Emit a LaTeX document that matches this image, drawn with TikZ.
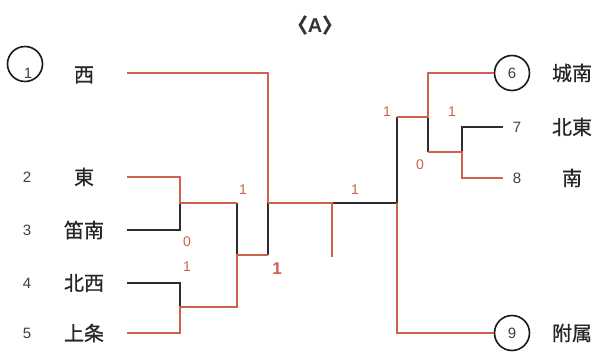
\documentclass[tikz,border=0pt]{standalone}
\usepackage{fontspec}
\setmainfont{Liberation Sans}
\newfontfamily\jpfont{Noto Sans CJK JP}[FakeBold=0.6]
\usetikzlibrary{calc}
\definecolor{wirered}{RGB}{206,96,76}
\definecolor{wiregray}{RGB}{45,45,45}

\begin{document}
\begin{tikzpicture}[x=1pt,y=-1pt,
    win/.style={draw=wirered,line width=1.2pt},
    lose/.style={draw=wiregray,line width=1.1pt},
    team/.style={font=\jpfont\fontsize{20}{22}\selectfont,text=black!85},
    seed/.style={font=\fontsize{15}{17}\selectfont,text=black!75},
    score/.style={font=\fontsize{14}{16}\selectfont,text=wirered},
    ring/.style={circle,draw=black!90,line width=1.6pt,minimum size=35pt,inner sep=0pt}]
    \useasboundingbox (0,0) rectangle (598,356);

    \node[font=\fontsize{20}{22}\selectfont\bfseries,text=black!80] (title) at (315,25)
        {{\jpfont 〈}A{\jpfont 〉}};

    % left side
    \node[ring] (s1) at (25,64) {};
    \node[seed] (n1) at (28,73) {1}; % number sits low in the ring
    \node[seed] (s2) at (27,177) {2};
    \node[seed] (s3) at (27,230) {3};
    \node[seed] (s4) at (27,283) {4};
    \node[seed] (s5) at (27,333) {5};
    \node[team] (t1) at (84,75) {西};
    \node[team] (t2) at (84,177) {東};
    \node[team] (t3) at (84,230) {笛南};
    \node[team] (t4) at (84,283) {北西};
    \node[team] (t5) at (84,333) {上条};

    % right side
    \node[ring,seed] (s6) at (512,73) {6};
    \node[seed] (s7) at (517,127) {7};
    \node[seed] (s8) at (517,178) {8};
    \node[ring,seed] (s9) at (512,333) {9};
    \node[team] (t6) at (572,73) {城南};
    \node[team] (t7) at (572,127) {北東};
    \node[team] (t8) at (572,178) {南};
    \node[team] (t9) at (572,333) {附属};

    \coordinate (w1) at (127,73);
    \coordinate (w2) at (127,177);
    \coordinate (w3) at (127,230);
    \coordinate (w4) at (127,283);
    \coordinate (w5) at (127,333);
    \coordinate (w7) at (503,127);
    \coordinate (w8) at (503,178);

    \coordinate (j23) at (180,203);
    \coordinate (j45) at (180,307);
    \coordinate (j25) at (237,255);
    \coordinate (jL) at (268,203);
    \coordinate (stub) at (332,257);
    \coordinate (jR) at (397,203);
    \coordinate (j68) at (428,117);
    \coordinate (j78) at (462,152);

    % losing lines
    \draw[lose] (w3) -| (j23);
    \draw[lose] (w4) -| (j45);
    \draw[lose] (j23 -| j25) -- (j25);
    \draw[lose] (j25 -| jL) -- (jL);
    \draw[lose] (jL -| stub) -- (jR);
    \draw[lose] (jR) -- (jR |- j68);
    \draw[lose] (j68) -- (j68 |- j78);
    \draw[lose] (j78) |- (w7);

    % winning lines
    \draw[win] (w1) -| (jL);
    \draw[win] (w2) -| (j23) -- (j23 -| j25);
    \draw[win] (w5) -| (j45) -| (j25) -- (j25 -| jL);
    \draw[win] (jL) -- (jL -| stub) -- (stub);
    \draw[win] (jR) |- (s9.west);
    \draw[win] (jR |- j68) -- (j68) |- (s6.west);
    \draw[win] (j68 |- j78) -- (j78) |- (w8);

    % scores
    \node[score] (p1) at (243,190) {1};
    \node[score] (p2) at (187,242) {0};
    \node[score] (p3) at (187,267) {1};
    \node[score,font=\fontsize{17}{19}\selectfont\bfseries] (p4) at (277,269) {1};
    \node[score] (p5) at (355,190) {1};
    \node[score] (p6) at (387,112) {1};
    \node[score] (p7) at (452,112) {1};
    \node[score] (p8) at (420,165) {0};
\end{tikzpicture}
\end{document}
